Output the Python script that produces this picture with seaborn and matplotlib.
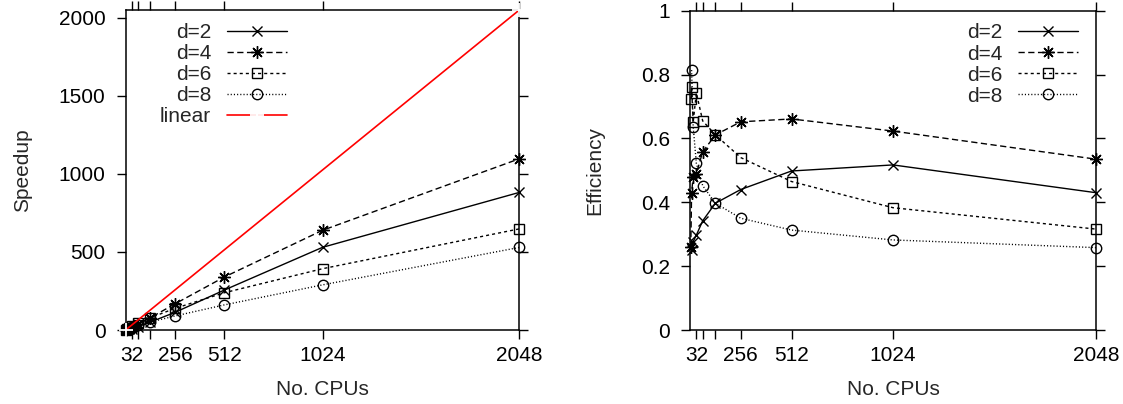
import matplotlib
matplotlib.use("Agg")
import matplotlib.pyplot as plt
import seaborn as sns
import pandas as pd
from matplotlib.ticker import FuncFormatter

# ---- data ----
cpus_d2 = [8, 16, 32, 64, 128, 256, 512, 1024, 2048]
eff_d2 = [0.25, 0.277, 0.297, 0.342, 0.397, 0.44, 0.498, 0.517, 0.430]
speed_d2 = [2.0, 4.4, 9.5, 21.9, 50.8, 112.6, 255.0, 529.0, 880.6]

cpus_d4 = [4, 8, 16, 32, 64, 128, 256, 512, 1024, 2048]
eff_d4 = [0.26, 0.43, 0.48, 0.49, 0.558, 0.611, 0.652, 0.661, 0.623, 0.535]
speed_d4 = [1.0, 3.4, 7.7, 15.7, 35.7, 78.2, 166.9, 338.4, 638.0, 1095.7]

cpus_d6 = [4, 8, 16, 32, 64, 128, 256, 512, 1024, 2048]
eff_d6 = [0.722, 0.76, 0.65, 0.743, 0.655, 0.611, 0.54, 0.465, 0.383, 0.316]
speed_d6 = [2.9, 6.1, 10.4, 23.8, 41.9, 78.2, 138.2, 238.1, 392.2, 647.2]

cpus_d8 = [8, 16, 32, 64, 128, 256, 512, 1024, 2048]
eff_d8 = [0.814, 0.637, 0.522, 0.452, 0.397, 0.35, 0.313, 0.282, 0.258]
speed_d8 = [6.5, 10.2, 16.7, 28.9, 50.8, 89.6, 160.3, 288.8, 528.4]

cpus_linear = [1, 2048]
speed_linear = [1, 2048]

series_labels = ["d=2", "d=4", "d=6", "d=8"]
xtick_values = [32, 64, 128, 256, 512, 1024, 2048]
xtick_labels = ["32", "", "", "256", "512", "1024", "2048"]
speed_ticks = [0, 500, 1000, 1500, 2000]
eff_ticks = [0, 0.2, 0.4, 0.6, 0.8, 1.0]

# ---- style ----
sns.set_style("ticks")
plt.rcParams["font.family"] = ["Liberation Sans", "DejaVu Sans"]
FS = 15

styles = {
    "d=2": dict(marker="x", ls="-", ms=7),
    "d=4": dict(marker=(8, 2, 0), ls=(0, (4.5, 2.5)), ms=9),
    "d=6": dict(marker="s", ls=(0, (2.2, 2.2)), ms=7),
    "d=8": dict(marker="o", ls=(0, (0.8, 1.5)), ms=7.5),
}

fig = plt.figure(figsize=(11.23, 4.04), dpi=100)
axL = fig.add_axes([125.7 / 1123, 74 / 404, 393.6 / 1123, 320 / 404])
axR = fig.add_axes([690 / 1123, 74 / 404, 406 / 1123, 319.3 / 404])

def draw(ax, xs_list, ys_list):
    for lab, xs, ys in zip(series_labels, xs_list, ys_list):
        st = styles[lab]
        df = pd.DataFrame({"cpus": xs, "val": ys})
        sns.lineplot(data=df, x="cpus", y="val", ax=ax, color="black",
                     estimator=None, sort=False, label=lab,
                     marker=st["marker"], linestyle=st["ls"], lw=1.0,
                     markersize=st["ms"], markerfacecolor="none",
                     markeredgecolor="black", markeredgewidth=1.0,
                     clip_on=False, zorder=3)

draw(axL, [cpus_d2, cpus_d4, cpus_d6, cpus_d8],
     [speed_d2, speed_d4, speed_d6, speed_d8])
df_lin = pd.DataFrame({"cpus": cpus_linear, "val": speed_linear})
sns.lineplot(data=df_lin, x="cpus", y="val", ax=axL, color="red",
             estimator=None, sort=False, label="linear", marker="+",
             markersize=10, markeredgewidth=1.3, lw=1.2, clip_on=False,
             zorder=4)

draw(axR, [cpus_d2, cpus_d4, cpus_d6, cpus_d8],
     [eff_d2, eff_d4, eff_d6, eff_d8])

for ax in (axL, axR):
    ax.set_xlim(0, 2048)
    ax.set_xticks(xtick_values)
    ax.set_xticklabels(xtick_labels)
    ax.tick_params(direction="out", length=6.5, width=1.0, top=True,
                   right=True, labelsize=FS, pad=5, colors="black")
    ax.tick_params(axis="y", pad=8)
    for sp in ax.spines.values():
        sp.set_visible(True)
        sp.set_linewidth(1.1)
        sp.set_color("black")
    ax.set_xlabel("No. CPUs", fontsize=FS, labelpad=11)
    ax.grid(False)

axL.set_ylim(0, 2048)
axL.set_yticks(speed_ticks)
axL.set_ylabel("Speedup", fontsize=FS, labelpad=19)

axR.set_ylim(0, 1)
axR.set_yticks(eff_ticks)
axR.yaxis.set_major_formatter(FuncFormatter(lambda v, p: "%g" % v))
axR.set_ylabel("Efficiency", fontsize=FS, labelpad=26)

def make_legend(ax, xright, ytop):
    leg = ax.legend(loc="upper right", bbox_to_anchor=(xright, ytop),
                    frameon=False, markerfirst=False, fontsize=FS,
                    handlelength=2.9, handletextpad=0.75, labelspacing=0.1,
                    borderpad=0, borderaxespad=0)
    for col in leg._legend_handle_box.get_children():
        col.align = "right"
    return leg

make_legend(axL, 0.41, 0.96)
make_legend(axR, 0.956, 0.96)

fig.savefig("out.png", dpi=100)
